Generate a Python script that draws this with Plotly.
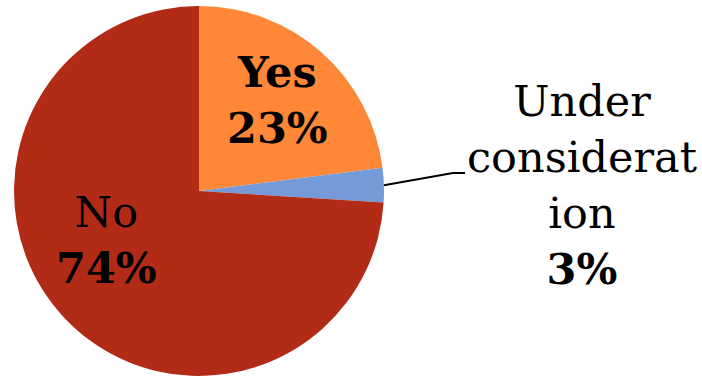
import math
import plotly.graph_objects as go

# Survey answers and their shares (percent)
labels = ["Yes", "Under consideration", "No"]
values = [23, 3, 74]
colors = ["#FE8838", "#7699D8", "#B22B17"]

W, H = 702, 377
cx, cy, r = 199, 191, 185  # pie centre and radius in pixels

FONT = "DejaVu Serif"
FS = 43


def px(x):
    return x / W


def py(y):
    return 1 - y / H


fig = go.Figure(
    go.Pie(
        labels=labels,
        values=values,
        marker=dict(colors=colors, line=dict(width=0)),
        sort=False,
        direction="clockwise",
        rotation=0,
        textinfo="none",
        hoverinfo="label+percent",
        showlegend=False,
        domain=dict(x=[px(cx - r), px(cx + r)], y=[py(cy + r), py(cy - r)]),
    )
)

total = sum(values)
pct = [round(v * 100 / total) for v in values]

annotations = [
    # Yes slice label
    dict(x=px(277), y=py(100), text=f"<b>{labels[0]}<br>{pct[0]}%</b>"),
    # No slice label
    dict(x=px(106), y=py(240), text=f"{labels[2]}<br><b>{pct[2]}%</b>"),
    # Under consideration, outside label
    dict(x=px(582), y=py(185),
         text="Under<br>considerat<br>ion<br>" + f"<b>{pct[1]}%</b>"),
]
for a in annotations:
    a.update(xref="paper", yref="paper", showarrow=False,
             xanchor="center", yanchor="middle", align="center",
             font=dict(family=FONT, size=FS, color="#000000"))

# Leader line from the middle of the small slice to its label
mid_frac = (values[0] + values[1] / 2) / total
theta = 2 * math.pi * mid_frac
x0 = cx + r * math.sin(theta)
y0 = cy - r * math.cos(theta)
elbow = (453, 173)
end = (465, 173)
path = (f"M {px(x0)} {py(y0)} L {px(elbow[0])} {py(elbow[1])} "
        f"L {px(end[0])} {py(end[1])}")

fig.update_layout(
    width=W,
    height=H,
    margin=dict(l=0, r=0, t=0, b=0),
    paper_bgcolor="#FFFFFF",
    plot_bgcolor="#FFFFFF",
    annotations=annotations,
    shapes=[dict(type="path", path=path, xref="paper", yref="paper",
                 line=dict(color="#000000", width=2))],
)

fig.write_html("out.html")
